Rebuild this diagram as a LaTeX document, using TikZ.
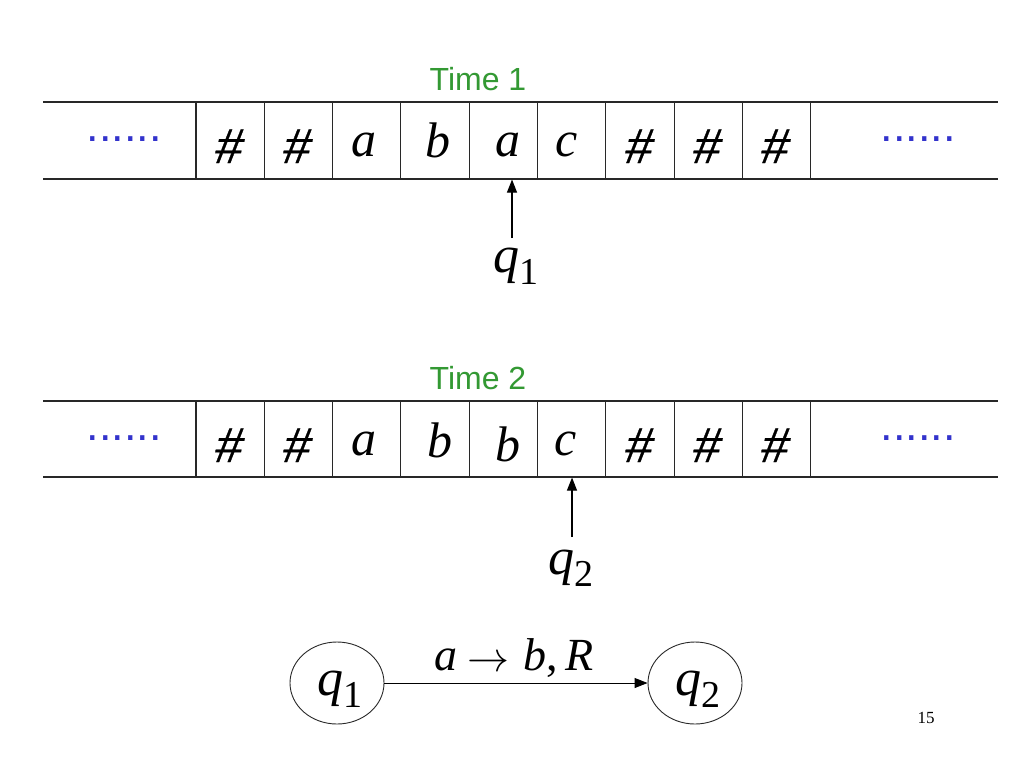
\documentclass[tikz,border=0pt]{standalone}
\usepackage{fontspec}
\usepackage{graphicx}
\setmainfont{Liberation Serif}
\newfontfamily\arial{Liberation Sans}
\newfontfamily\hashfont{Liberation Sans}[FakeSlant=0.18,FakeBold=0.6]
\usetikzlibrary{arrows.meta,shapes.geometric}
\definecolor{tgreen}{RGB}{51,153,51}
\definecolor{dblue}{RGB}{51,51,204}
\definecolor{lineclr}{RGB}{40,40,40}
\begin{document}
\begin{tikzpicture}[x=1pt,y=-1pt,
  cell/.style={draw=lineclr, line width=1.1pt, minimum width=68.3pt, minimum height=77pt, inner sep=0pt},
  sym/.style={font=\fontsize{50}{50}\selectfont\itshape, anchor=base, inner sep=0pt},
  hash/.style={font=\hashfont\fontsize{49}{49}\selectfont, anchor=base, inner sep=0pt},
  dots/.style={font=\arial\fontsize{45}{45}\selectfont, text=dblue, anchor=base, inner sep=0pt},
  timelab/.style={font=\arial\fontsize{32}{32}\selectfont, text=tgreen, anchor=base, inner sep=0pt},
  qlab/.style={font=\fontsize{52}{52}\selectfont, anchor=base, inner sep=0pt},
  state/.style={draw=lineclr, line width=0.9pt, ellipse, minimum width=94pt, minimum height=82pt, inner sep=0pt},
  arr/.style={draw=black, line width=1.1pt, -{Triangle[length=13pt,width=10pt]}},
  tapeline/.style={draw=lineclr, line width=1.1pt}
]
\fill[white] (0,0) rectangle (1024,768);
\useasboundingbox (0,0) rectangle (1024,768);

% ---------- Tape 1 ----------
\draw[tapeline] (43,102) -- (998,102);
\draw[tapeline] (43,179) -- (998,179);
\foreach \i/\x in {1/230.15,2/298.45,3/366.75,4/435.05,5/503.35,6/571.65,7/639.95,8/708.25,9/776.55}{
  \node[cell] (ta\i) at (\x,140.5) {};
}
\node[dots] (tadl) at (124,141) {......};
\node[dots] (tadr) at (918,141) {......};
\node[hash] (tas1) at (227,163) {\#};
\node[hash] (tas2) at (295,163) {\#};
\node[sym]  (tas3) at (364,156) {a};
\node[sym]  (tas4) at (438,157) {b};
\node[sym]  (tas5) at (508,156) {a};
\node[sym]  (tas6) at (567,156) {c};
\node[hash] (tas7) at (637,163) {\#};
\node[hash] (tas8) at (705,163) {\#};
\node[hash] (tas9) at (773,163) {\#};
\node[timelab] (time1) at (478,90) {Time 1};
\node[qlab] (q1t) at (516,272) {\itshape q\upshape\raisebox{-12pt}{\fontsize{38}{38}\selectfont 1}};
\coordinate (h1tail) at (512,238);
\draw[arr] (h1tail) -- (h1tail |- ta5.south);

% ---------- Tape 2 ----------
\draw[tapeline] (43,401) -- (998,401);
\draw[tapeline] (43,477) -- (998,477);
\foreach \i/\x in {1/230.15,2/298.45,3/366.75,4/435.05,5/503.35,6/571.65,7/639.95,8/708.25,9/776.55}{
  \node[cell, minimum height=76pt] (tb\i) at (\x,439) {};
}
\node[dots] (tbdl) at (124,440) {......};
\node[dots] (tbdr) at (918,440) {......};
\node[hash] (tbs1) at (227,462) {\#};
\node[hash] (tbs2) at (295,462) {\#};
\node[sym]  (tbs3) at (364,455) {a};
\node[sym]  (tbs4) at (440,457) {b};
\node[sym]  (tbs5) at (508,461) {b};
\node[sym]  (tbs6) at (566,455) {c};
\node[hash] (tbs7) at (637,462) {\#};
\node[hash] (tbs8) at (705,462) {\#};
\node[hash] (tbs9) at (773,462) {\#};
\node[timelab] (time2) at (478,389) {Time 2};
\node[qlab] (q2t) at (571,574) {\itshape q\upshape\raisebox{-12pt}{\fontsize{38}{38}\selectfont 2}};
\coordinate (h2tail) at (572,537);
\draw[arr] (h2tail) -- (h2tail |- tb6.south);

% ---------- Transition ----------
\node[state] (s1) at (337,683) {};
\node[state] (s2) at (695,683) {};
\node[qlab] (s1t) at (340,695) {\itshape q\upshape\raisebox{-12pt}{\fontsize{38}{38}\selectfont 1}};
\node[qlab] (s2t) at (698,695) {\itshape q\upshape\raisebox{-12pt}{\fontsize{38}{38}\selectfont 2}};
\draw[arr, line width=0.9pt] (s1) -- (s2);
\node[font=\fontsize{46}{46}\selectfont, anchor=base, inner sep=0pt] (lab) at (514,670)
  {\itshape a\upshape\hspace{10pt}\raisebox{-1pt}{\fontsize{10}{10}\selectfont\scalebox{4.2}{$\rightarrow$}}\hspace{14pt}\itshape b\upshape,\hspace{8pt}\itshape R};
\node[font=\fontsize{17}{17}\selectfont, anchor=base, inner sep=0pt] (pg) at (926,723) {15};
\end{tikzpicture}
\end{document}
